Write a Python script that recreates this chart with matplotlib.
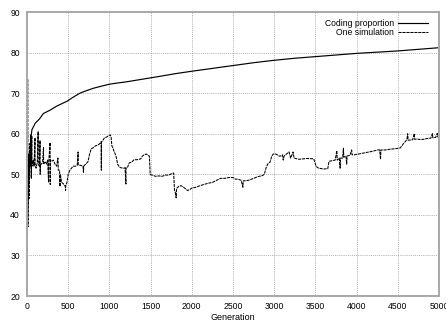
import matplotlib
matplotlib.use("Agg")
import matplotlib.pyplot as plt

# Average proportion of coding sequence across runs
coding_gen = [0, 10, 20, 30, 40, 50, 60, 100, 150, 200, 280, 360, 485, 560, 643,
              720, 805, 900, 1000, 1100, 1210, 1330, 1450, 1600, 1800, 2000, 2250,
              2500, 2750, 3000, 3250, 3500, 3750, 4000, 4250, 4500, 4750, 5000]
coding_val = [35, 42, 48, 53, 57, 59.5, 61, 62.6, 63.6, 65, 65.8, 66.8, 68, 69.0, 70,
              70.6, 71.2, 71.7, 72.2, 72.5, 72.8, 73.2, 73.6, 74.1, 74.8, 75.4, 76.1,
              76.8, 77.5, 78.1, 78.6, 79, 79.4, 79.8, 80.1, 80.4, 80.8, 81.2]

# A single run
sim_gen = [0, 3, 5, 6, 7, 8, 9, 11, 14, 16, 18, 21, 24, 27, 30, 33, 36, 38, 42, 45,
           47, 52, 55, 58, 60, 68, 75, 85, 97, 99, 110, 125, 135, 137, 150, 158, 160,
           162, 175, 190, 200, 202, 220, 235, 250, 262, 264, 280, 282, 285, 300, 320,
           340, 360, 375, 380, 395, 400, 405, 420, 440, 465, 468, 470, 485, 500, 520,
           540, 560, 590, 610, 620, 622, 650, 680, 685, 688, 720, 740, 760, 780, 800,
           830, 860, 880, 900, 902, 904, 920, 940, 970, 990, 1010, 1020, 1030, 1040,
           1060, 1080, 1090, 1100, 1120, 1140, 1170, 1190, 1200, 1202, 1220, 1240,
           1270, 1300, 1340, 1380, 1400, 1420, 1450, 1470, 1485, 1495, 1520, 1560,
           1600, 1640, 1680, 1720, 1760, 1780, 1790, 1800, 1810, 1815, 1840, 1870,
           1900, 1950, 1980, 2000, 2050, 2100, 2150, 2200, 2250, 2300, 2350, 2400,
           2450, 2500, 2530, 2560, 2600, 2620, 2625, 2660, 2700, 2750, 2800, 2860,
           2880, 2900, 2920, 2950, 2970, 2990, 3020, 3060, 3080, 3100, 3110, 3120,
           3180, 3200, 3230, 3240, 3300, 3350, 3400, 3480, 3510, 3540, 3600, 3650,
           3665, 3720, 3740, 3760, 3765, 3790, 3800, 3805, 3830, 3840, 3845, 3870,
           3880, 3885, 3920, 3940, 3945, 3970, 4000, 4100, 4200, 4250, 4280, 4290,
           4295, 4350, 4410, 4470, 4530, 4570, 4610, 4620, 4625, 4680, 4700, 4705,
           4730, 4760, 4810, 4850, 4900, 4920, 4925, 4960, 4980, 4985, 5000]
sim_val = [35, 40, 51, 61, 52, 73.5, 47, 37, 50, 55, 46, 53, 44, 54, 52, 53.5, 57.6, 52,
           53, 59.7, 52.5, 49, 53, 59.5, 52, 52.5, 53.5, 52, 59, 52.5, 51.5, 53, 60.5,
           52.5, 52, 58.3, 50, 52.5, 52.5, 53, 56.6, 52.5, 53, 52.5, 53.5, 48, 53,
           57.8, 47.5, 53.5, 53.2, 53.5, 52.5, 52, 54, 51, 51, 47, 50, 48, 47.7, 47,
           46, 47.2, 48, 50, 51, 51.5, 52, 52, 52.3, 55.5, 52.3, 52.2, 52, 50.5, 52,
           52.7, 53.1, 55, 56.3, 56.5, 57, 57.2, 57.5, 58, 51, 58, 58.3, 59, 59.2,
           59.5, 59.7, 59.3, 57, 56.6, 55.5, 54.5, 53.5, 52.5, 51.8, 51.6, 51.5, 51.6,
           47.6, 51.6, 51.7, 52.8, 53, 53.6, 53.6, 53.8, 54.5, 54.8, 55, 54.6, 54.5,
           49.9, 49.8, 49.5, 49.6, 49.5, 49.8, 49.8, 50.2, 50.3, 46, 45.5, 44.2, 46.5,
           47, 47.2, 46.8, 46, 46.3, 46.6, 46.8, 47.2, 47.5, 47.8, 48, 48.5, 49, 49,
           49.2, 49.2, 48.8, 48.8, 48.5, 46.8, 48.4, 48.4, 48.6, 49, 49.4, 49.7, 50,
           51.5, 52.5, 53, 54.5, 55, 55, 54.5, 54.5, 54.8, 53.5, 54.5, 55.5, 54,
           55.5, 54, 53.7, 53.8, 53.9, 53.8, 51.9, 51.5, 51.3, 51.4, 53.2, 53.4, 53.5,
           55.8, 53.5, 54, 51.5, 54, 54, 56.4, 54.2, 54.5, 52.5, 54.5, 54.7, 56, 54.8,
           54.8, 54.9, 55.3, 55.7, 56, 56, 53.7, 56, 56, 56.2, 56.3, 56.5, 57.6, 58.5,
           60, 58.4, 58.5, 60, 58.6, 58.7, 58.6, 58.6, 58.8, 58.9, 60, 59, 59.1, 60.1,
           59.2, 59.3]

x_ticks = [0, 500, 1000, 1500, 2000, 2500, 3000, 3500, 4000, 4500, 5000]
y_ticks = [20, 30, 40, 50, 60, 70, 80, 90]

plt.rcParams["font.family"] = ["Liberation Sans", "DejaVu Sans"]

fig = plt.figure(figsize=(4.46, 3.22), dpi=100)
ax = fig.add_axes([27 / 446, 26 / 322, 412 / 446, 284 / 322])

ax.plot(coding_gen, coding_val, color="black", lw=0.85, label="Coding proportion")
ax.plot(sim_gen, sim_val, color="black", lw=0.75, linestyle=(0, (3, 0.8)),
        label="One simulation")

ax.set_xlim(0, 5000)
ax.set_ylim(20, 90)
ax.set_xticks(x_ticks)
ax.set_yticks(y_ticks)
ax.tick_params(axis="both", length=0, labelsize=6.2)
ax.tick_params(axis="y", pad=5)
ax.tick_params(axis="x", pad=4.5)
ax.grid(True, color="#8a8a8a", lw=0.55, linestyle=(0, (1, 1.5)))
for s in ax.spines.values():
    s.set_color("#a8a8a8")
    s.set_linewidth(1.4)

ax.set_xlabel("Generation", fontsize=6.5, labelpad=1.2)

leg = ax.legend(loc="upper right", bbox_to_anchor=(0.985, 0.995), frameon=False,
                markerfirst=False, fontsize=6.2, handlelength=3.5,
                handletextpad=0.4, labelspacing=0.0, borderaxespad=0.2)

fig.savefig("out.png", dpi=100)
